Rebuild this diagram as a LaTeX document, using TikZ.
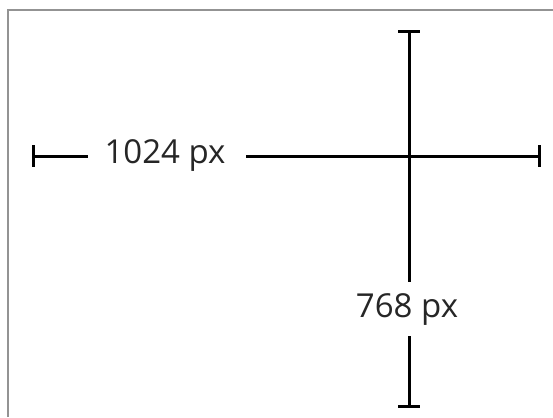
\documentclass[tikz,border=0pt]{standalone}
\usepackage{fontspec}
\setmainfont{Open Sans}
\begin{document}
\begin{tikzpicture}[x=1pt,y=-1pt,
  dimline/.style={line width=3pt,draw=black},
  lbl/.style={font=\fontsize{33}{38}\selectfont,text=black!85,inner sep=0pt}]
\useasboundingbox (0,0) rectangle (553,417);
\fill[white] (0,0) rectangle (553,417);
\draw[gray!85,line width=1.5pt] (8,417) -- (8,10) -- (553,10);
% horizontal
\coordinate (hl) at (33,156);
\coordinate (hr) at (539,156);
\node[lbl,anchor=center] (ht) at (165,155) {1024 px};
\draw[dimline] (33,145) -- (33,167);
\draw[dimline] (539,145) -- (539,167);
\draw[dimline] (hl) -- (88,156);
\draw[dimline] (246,156) -- (hr);
% vertical
\coordinate (vt) at (409,32);
\coordinate (vb) at (409,406);
\node[lbl,anchor=center] (vtx) at (407,310) {768 px};
\draw[dimline] (398,32) -- (420,32);
\draw[dimline] (398,406) -- (420,406);
\draw[dimline] (vt) -- (409,282);
\draw[dimline] (409,336) -- (vb);
\end{tikzpicture}
\end{document}
